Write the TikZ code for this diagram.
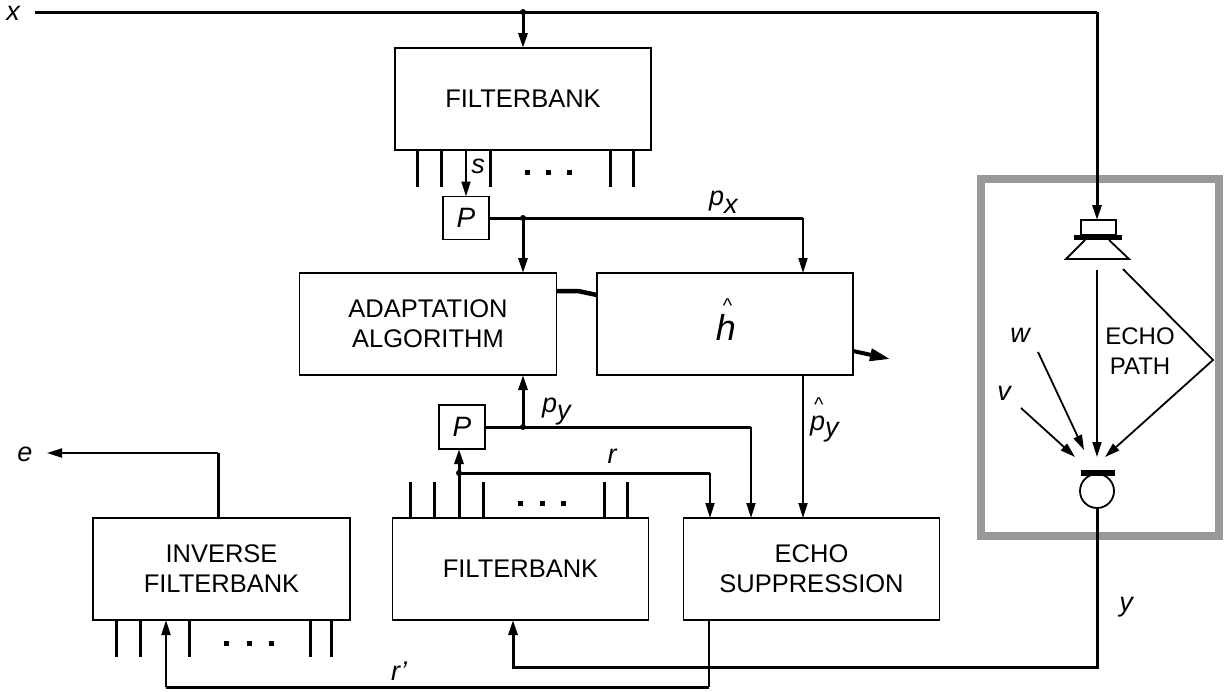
\documentclass[tikz,border=0pt]{standalone}
\usepackage{fontspec}
\setmainfont{Liberation Sans}
\usetikzlibrary{arrows.meta}
\definecolor{framegray}{HTML}{999999}
\tikzset{
 blk/.style={draw, line width=1.8pt, minimum width=256pt, minimum height=102pt, inner sep=0pt, outer sep=0pt, align=center, font=\fontsize{25.5}{30}\selectfont},
 pbox/.style={draw, line width=1.8pt, minimum width=46pt, minimum height=43pt, inner sep=0pt, outer sep=0pt, font=\fontsize{28}{28}\selectfont\itshape},
 thk/.style={line width=3pt},
 thn/.style={line width=1.8pt},
 arr/.style={-{Triangle[length=15pt,width=9pt]}},
 lbl/.style={font=\fontsize{27}{27}\selectfont\itshape, inner sep=0pt, anchor=base},
 dotjn/.style={circle, fill, inner sep=0pt, minimum size=6pt},
}
\newcommand{\hatmark}[2]{\makebox[0pt][l]{\hspace{#1}\raisebox{#2}{\fontsize{20}{20}\selectfont\upshape\textasciicircum}}}
\begin{document}
\begin{tikzpicture}[x=1pt,y=-1pt]
\useasboundingbox (0,0) rectangle (1229,691);
% room frame
\draw[framegray, line width=8pt] (981,179) rectangle (1219,536);

% blocks
\node[blk] (fbtop) at (523,99) {FILTERBANK};
\node[blk, minimum width=257pt] (adapt) at (428,324) {ADAPTATION\\ALGORITHM};
\node[blk] (hhat) at (725,324) {};
\node[blk, minimum width=257pt] (inv) at (221.5,569) {INVERSE\\FILTERBANK};
\node[blk] (fbbot) at (520.5,569) {FILTERBANK};
\node[blk] (esup) at (811.5,569) {ECHO\\SUPPRESSION};
\node[pbox] (ptop) at (466,218) {P};
\node[pbox, minimum height=44pt] (pbot) at (462,427) {P};

% h hat
\node[font=\fontsize{36}{36}\selectfont\itshape, inner sep=0pt, anchor=base] (hlet) at (726,340) {\hatmark{7pt}{27.5pt}h};

% labels
\node[lbl] (xl) at (13,20) {x};
\node[lbl] (el) at (25,461) {e};
\node[lbl] (sl) at (478,173) {s};
\node[lbl, anchor=base west] (pxl) at (709,205) {p\raisebox{-8pt}{x}};
\node[lbl, anchor=base west] (pyl) at (542,412) {p\raisebox{-7pt}{y}};
\node[lbl, anchor=base west] (phl) at (810,430) {\hatmark{4pt}{18.5pt}p\raisebox{-6pt}{y}};
\node[lbl] (rl) at (612,463) {r};
\node[lbl] (rpl) at (399,680) {r’};
\node[lbl] (yl) at (1126,611) {y};
\node[lbl] (wl) at (1020,342) {w};
\node[lbl] (vl) at (1004,400) {v};
\node[align=center, font=\fontsize{24}{30}\selectfont, inner sep=0pt] (epath) at (1140,351) {ECHO\\PATH};

% speaker
\node[draw, thn, minimum width=35pt, minimum height=15pt, inner sep=0pt, outer sep=0pt] (spk) at (1098.5,227.5) {};
\draw[line width=5pt] (1074,237.5) -- (1122,237.5);
\draw[thn] (1085,240) -- (1066,259) -- (1129,259) -- (1109,240);
\coordinate (spkout) at (1097,270);

% microphone
\draw[line width=6pt] (1081,473) -- (1115,473);
\node[draw, thn, circle, minimum size=34pt, inner sep=0pt, outer sep=0pt] (mic) at (1097,491) {};
\coordinate (micin) at (1097,457);

% echo paths
\draw[thn,arr] (spkout) -- (micin);
\coordinate (sprt) at (1123,269);
\coordinate (refl) at (1213,360);
\coordinate (micr) at (1105,457);
\draw[thn,arr] (sprt) -- (refl) -- (micr);
\coordinate (ws) at (1038,352);
\coordinate (wt) at (1084,450);
\draw[thn,arr] (ws) -- (wt);
\coordinate (vs) at (1021,408);
\coordinate (vt) at (1075,457);
\draw[thn,arr] (vs) -- (vt);

% x line
\coordinate (xs) at (35,12);
\node[dotjn] (jx) at (523,12) {};
\coordinate (xc) at (1097,12);
\draw[thk] (xs) -- (xc);
\draw[thk,arr] (xc) -- (xc |- spk.north);
\draw[thk,arr] (jx.center) -- (fbtop.north);

% top filterbank outputs
\foreach \xx in {417,441,490,610,633} \draw[thk] (\xx,150) -- (\xx,187);
\foreach \xx in {527,548,569} \fill (\xx-2.5,169.5) rectangle +(5,5);
\draw[thn,arr] (fbtop.south -| ptop.north) -- (ptop.north);

% p_x
\node[dotjn] (jpx) at (523,218) {};
\coordinate (pxc) at (803,218);
\draw[thk] (ptop.east) -- (pxc);
\draw[thn,arr] (pxc) -- (pxc |- hhat.north);
\draw[thk,arr] (jpx.center) -- (jpx.center |- adapt.north);

% adaptation to filter
\coordinate (stubm) at (578,291);
\draw[line width=4.5pt] ([yshift=33pt]adapt.east) -- (stubm) -- ([yshift=29pt]hhat.west);
\coordinate (hout) at (890,359);
\draw[line width=4pt, -{Triangle[length=20pt,width=12pt]}] ([yshift=-27pt]hhat.east) -- (hout);

% p hat y
\draw[thn,arr] (hhat.south -| pxc) -- (esup.north -| pxc);

% p_y
\node[dotjn] (jpy) at (523,427) {};
\coordinate (pyc) at (751,427);
\draw[thk] (pbot.east) -- (pyc);
\draw[thn,arr] (pyc) -- (pyc |- esup.north);
\draw[thk,arr] (jpy.center) -- (jpy.center |- adapt.south);

% lower filterbank outputs
\foreach \xx in {410,434,483,604,627} \draw[thk] (\xx,518) -- (\xx,482);
\foreach \xx in {520,542,563} \fill (\xx-2.5,500.5) rectangle +(5,5);
\coordinate (fbr) at (459,518);
\node[dotjn] (jr) at (459,473) {};
\draw[thk,arr] (fbr) -- (fbr |- pbot.south);
\coordinate (rc) at (710,473);
\draw[thk] (jr.center) -- (rc);
\draw[thn,arr] (rc) -- (rc |- esup.north);

% inverse filterbank inputs
\foreach \xx in {116,140,189,310,331} \draw[thk] (\xx,620) -- (\xx,657);
\foreach \xx in {226,249,271} \fill (\xx-2.5,640.5) rectangle +(5,5);

% r'
\coordinate (rp1) at (709,687);
\coordinate (rp2) at (166,687);
\draw[thn] (esup.south -| rp1) -- (rp1);
\draw[thk] (rp1) -- (rp2);
\draw[thn,arr] (rp2) -- (rp2 |- inv.south);

% y
\coordinate (yc1) at (1097,667);
\coordinate (yc2) at (513,667);
\draw[thk,arr] (mic.south) -- (yc1) -- (yc2) -- (yc2 |- fbbot.south);

% e
\coordinate (ec) at (218,453);
\coordinate (etip) at (47,453);
\draw[thk] (inv.north -| ec) -- (ec);
\draw[thn,arr] (ec) -- (etip);
\end{tikzpicture}
\end{document}
